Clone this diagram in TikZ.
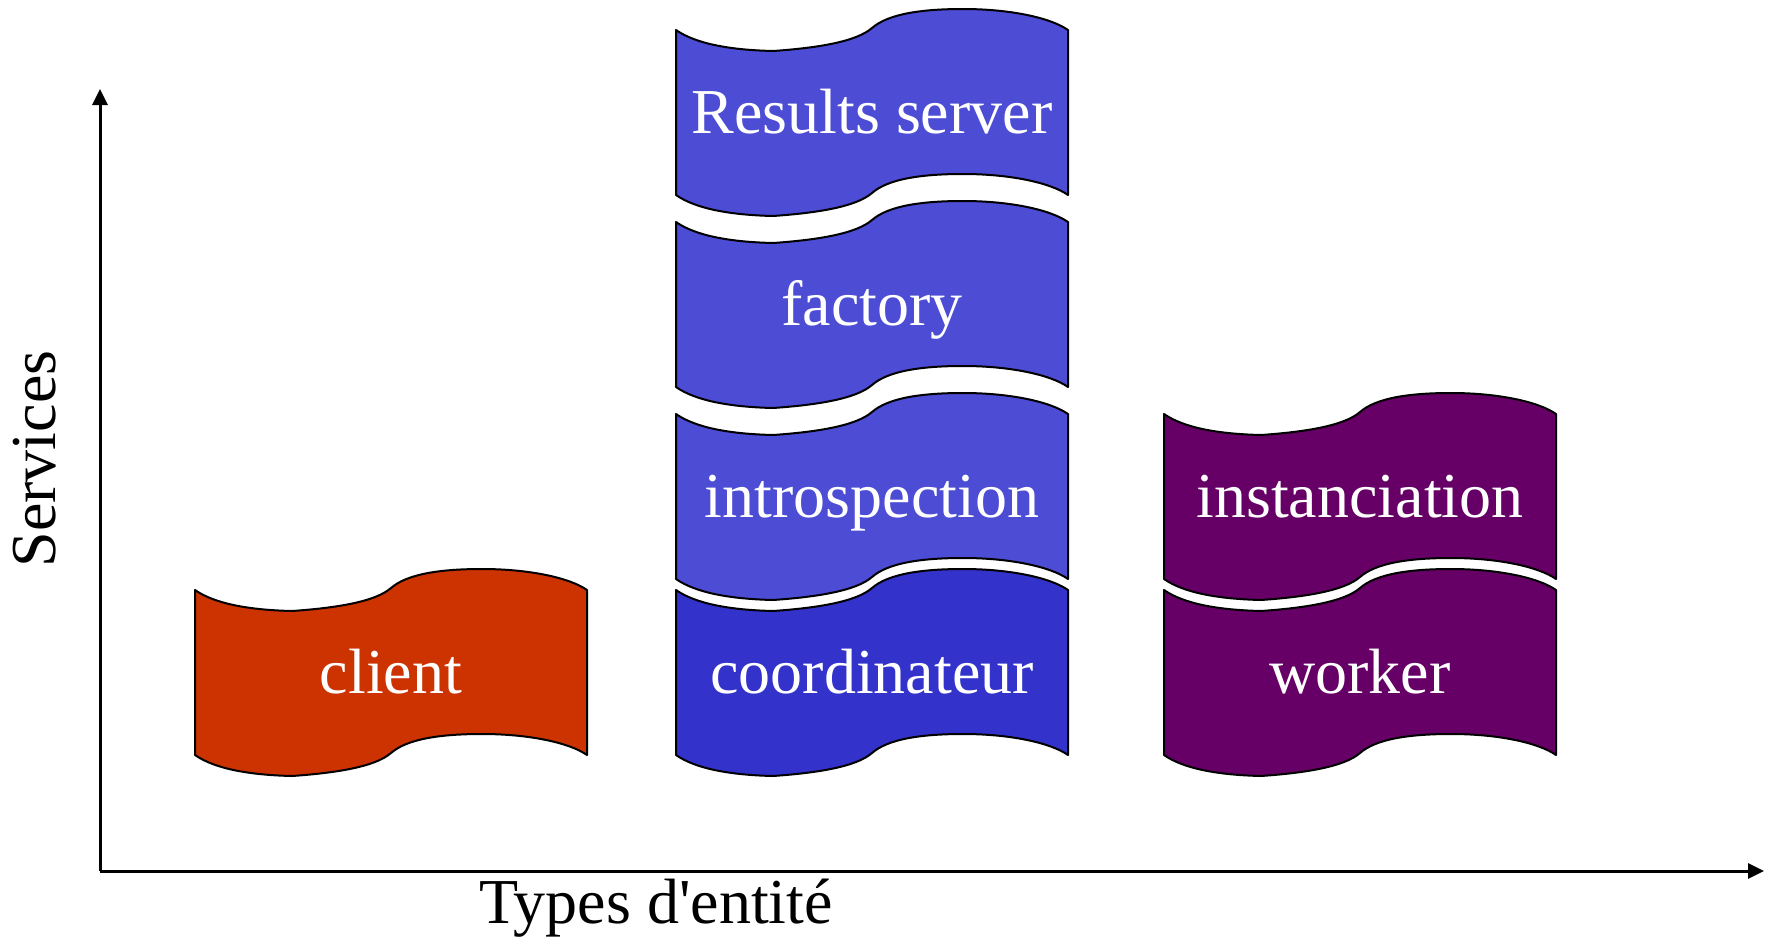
\documentclass[tikz,border=0pt]{standalone}
\usepackage{fontspec}
\setmainfont{Liberation Serif}[Ligatures=TeXOff]
\usetikzlibrary{arrows.meta}
\definecolor{clientred}{RGB}{204,51,0}
\definecolor{servblue}{RGB}{76,76,212}
\definecolor{coordblue}{RGB}{51,51,204}
\definecolor{workpurple}{RGB}{102,0,102}
\tikzset{
  flagline/.style={draw=black, line width=2pt, line join=round},
  flagtext/.style={text=white, font=\fontsize{64}{70}\selectfont, anchor=base, inner sep=0pt},
  axisline/.style={line width=3pt, -{Triangle[length=16pt,width=15pt]}},
  axlabel/.style={text=black, font=\fontsize{64}{70}\selectfont, anchor=base, inner sep=0pt},
}
\newcommand\flagbox[5]{%
  \begin{scope}[shift={(#2,#3)}]
    \path[flagline, fill=#4]
      (0,0) .. controls (20,14) and (55,20) .. (97,21)
      .. controls (140,18) and (180,12) .. (196,-2)
      .. controls (212,-16) and (245,-21) .. (287,-21)
      .. controls (335,-21) and (375,-12) .. (392,0)
      -- (392,165)
      .. controls (375,153) and (335,144) .. (287,144)
      .. controls (245,144) and (212,149) .. (196,163)
      .. controls (180,177) and (140,183) .. (97,186)
      .. controls (55,185) and (20,179) .. (0,165)
      -- cycle;
    \node[flagtext] (#1) at (196,103) {#5};
  \end{scope}}
\begin{document}
\begin{tikzpicture}[x=1pt, y=-1pt]
  \useasboundingbox (0,0) rectangle (1772,938);
  % axes
  \coordinate (O) at (100,871);
  \coordinate (ytip) at (100,89);
  \coordinate (xtip) at (1764,871);
  \draw[axisline] (O) -- (ytip);
  \draw[axisline] (O) -- (xtip);
  \node[axlabel, rotate=90] (ylab) at (55,459) {Services};
  \node[axlabel] (xlab) at (656,923) {Types d'entité};
  % client column
  \flagbox{client}{195}{590}{clientred}{client}
  % service column
  \flagbox{results}{676}{30}{servblue}{Results server}
  \flagbox{factory}{676}{222}{servblue}{factory}
  \flagbox{introspection}{676}{414}{servblue}{introspection}
  \flagbox{coord}{676}{590}{coordblue}{coordinateur}
  % worker column
  \flagbox{instanciation}{1164}{414}{workpurple}{instanciation}
  \flagbox{worker}{1164}{590}{workpurple}{worker}
\end{tikzpicture}
\end{document}
